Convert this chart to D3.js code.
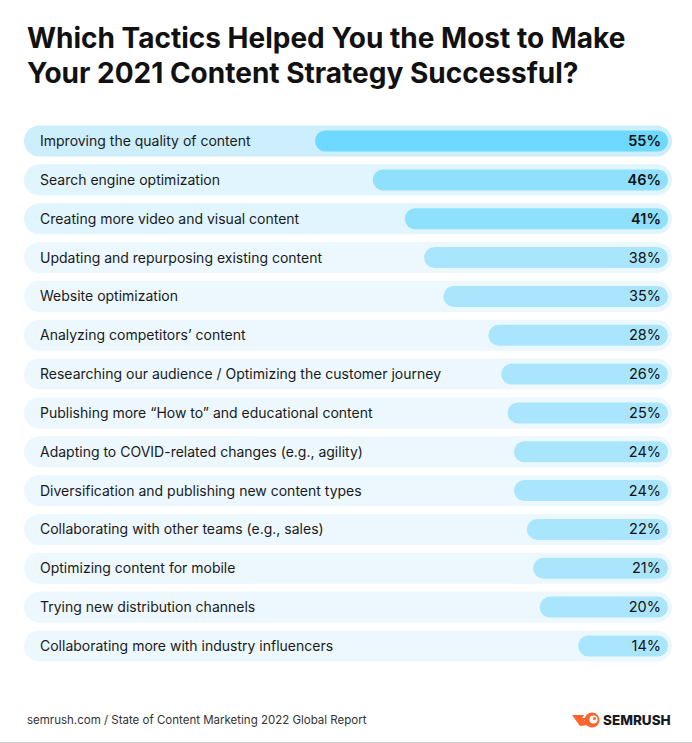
<!DOCTYPE html>
<html><head><meta charset="utf-8">
<script src="https://cdn.jsdelivr.net/npm/d3@7"></script>
<style>body{margin:0;background:#fff}svg{display:block}</style>
</head><body>
<script>
const categories = [
 "Improving the quality of content",
 "Search engine optimization",
 "Creating more video and visual content",
 "Updating and repurposing existing content",
 "Website optimization",
 "Analyzing competitors\u2019 content",
 "Researching our audience / Optimizing the customer journey",
 "Publishing more \u201cHow to\u201d and educational content",
 "Adapting to COVID-related changes (e.g., agility)",
 "Diversification and publishing new content types",
 "Collaborating with other teams (e.g., sales)",
 "Optimizing content for mobile",
 "Trying new distribution channels",
 "Collaborating more with industry influencers"
];
const values = [55,46,41,38,35,28,26,25,24,24,22,21,20,14];
const titleLines = ["Which Tactics Helped You the Most to Make","Your 2021 Content Strategy Successful?"];
const source = "semrush.com / State of Content Marketing 2022 Global Report";

const W=692,H=743;
const svg=d3.select("body").append("svg").attr("width",W).attr("height",H);
const FONT="Inter, 'Noto Sans', sans-serif";

// title
const t=svg.append("g");
titleLines.forEach((l,i)=>{
  t.append("text").attr("x",27).attr("y",48+i*35).text(l)
   .attr("font-family",FONT).attr("font-weight",700).attr("font-size",28)
   .attr("fill","#111");
});

const y=d3.scaleBand().domain(categories).range([125.5,661.5]).paddingInner(0.2).paddingOuter(0);
const x=d3.scaleLinear().domain([0,55]).range([0,353]);
const right=668, bgL=24, bgR=672;
const bgCol=i=> i===0?"#cdeefc":(i<3?"#e1f5fe":"#ecf8fe");
const barCol=i=> i===0?"#6dd9fe":(i<3?"#8ee0fd":"#a9e6fd");

const rows=svg.append("g").selectAll("g").data(categories).join("g");
rows.append("rect").attr("x",bgL).attr("y",d=>y(d)).attr("width",bgR-bgL).attr("height",y.bandwidth())
  .attr("rx",y.bandwidth()/2).attr("fill",(d,i)=>bgCol(i));
const bh=21;
rows.append("rect").attr("x",(d,i)=>right-x(values[i])).attr("y",d=>y(d)+y.bandwidth()/2-bh/2)
  .attr("width",(d,i)=>x(values[i])).attr("height",bh).attr("rx",bh/2).attr("fill",(d,i)=>barCol(i));
rows.append("text").attr("x",40).attr("y",d=>y(d)+y.bandwidth()/2+5).text(d=>d)
  .attr("font-family",FONT).attr("font-size",14).attr("fill","#1a1a1a");
rows.append("text").attr("x",661).attr("y",d=>y(d)+y.bandwidth()/2+5).text((d,i)=>values[i]+"%")
  .attr("text-anchor","end").attr("font-family",FONT).attr("font-size",14.5)
  .attr("font-weight",(d,i)=>i<3?600:400).attr("fill","#111");

// footer
svg.append("text").attr("x",27).attr("y",724).text(source)
  .attr("font-family",FONT).attr("font-size",11.5).attr("fill","#333");
svg.append("line").attr("x1",0).attr("x2",W).attr("y1",742.5).attr("y2",742.5).attr("stroke","#cfcfcf");

// logo
const lg=svg.append("g").attr("transform","translate(572,720)");
lg.append("path").attr("d","M0,-5 L12,-5 L10,-2 L14,-2 L12,1 L18,1 L16,5 L8,6 Z").attr("fill","#ff642d");
lg.append("circle").attr("cx",20).attr("cy",0).attr("r",7.5).attr("fill","#ff642d");
lg.append("circle").attr("cx",21.5).attr("cy",-0.5).attr("r",4).attr("fill","#fff");
lg.append("circle").attr("cx",22.5).attr("cy",-1.5).attr("r",1.6).attr("fill","#ff642d");
lg.append("text").attr("x",31).attr("y",5).text("SEMRUSH").attr("font-family",FONT)
  .attr("font-weight",800).attr("font-size",13.5).attr("fill","#171a22");
</script>
</body></html>
